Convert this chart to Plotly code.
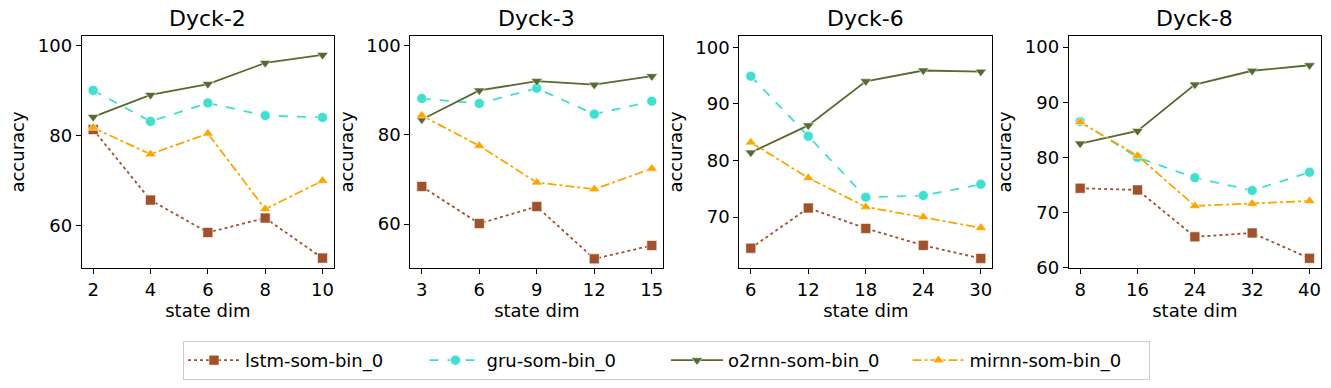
import plotly.graph_objects as go

titles = ["Dyck-2", "Dyck-3", "Dyck-6", "Dyck-8"]
state_dims = [
    [2, 4, 6, 8, 10],
    [3, 6, 9, 12, 15],
    [6, 12, 18, 24, 30],
    [8, 16, 24, 32, 40],
]
series_names = ["lstm-som-bin_0", "gru-som-bin_0", "o2rnn-som-bin_0", "mirnn-som-bin_0"]

lstm = [
    [81.3, 65.6, 58.4, 61.6, 52.7],
    [68.4, 60.1, 63.9, 52.2, 55.2],
    [64.5, 71.6, 68.0, 65.0, 62.7],
    [74.4, 74.1, 65.6, 66.3, 61.7],
]
gru = [
    [90.0, 83.1, 87.2, 84.4, 84.0],
    [88.1, 87.0, 90.4, 84.6, 87.5],
    [94.9, 84.3, 73.5, 73.8, 75.8],
    [86.5, 80.0, 76.3, 74.0, 77.3],
]
o2rnn = [
    [84.1, 89.0, 91.4, 96.1, 97.9],
    [83.4, 89.9, 92.0, 91.2, 93.1],
    [81.4, 86.2, 94.0, 95.9, 95.7],
    [82.5, 84.8, 93.2, 95.7, 96.7],
]
mirnn = [
    [81.7, 75.8, 80.4, 63.6, 69.9],
    [84.3, 77.5, 69.3, 67.8, 72.4],
    [83.2, 76.9, 71.8, 70.0, 68.1],
    [86.4, 80.3, 71.2, 71.6, 72.1],
]

y_ranges = [[50.5, 102.1], [50.15, 102.1], [61.0, 102.0], [59.95, 102.0]]
y_dticks = [20, 20, 10, 10]

styles = [
    dict(color="#a0522d", dash="dot", symbol="square", size=10),
    dict(color="#40e0d0", dash="dash", symbol="circle", size=10),
    dict(color="#556b2f", dash="solid", symbol="triangle-down", size=10),
    dict(color="#ffa500", dash="dashdot", symbol="triangle-up", size=10),
]
all_series = [lstm, gru, o2rnn, mirnn]

W, H = 1331, 388
x_px = [(81.7, 334.0), (410.3, 663.3), (739.3, 992.3), (1068.7, 1321.0)]
y_dom = [1 - 268 / H, 1 - 36 / H]

FONT = "DejaVu Sans"
FS = 18
fig = go.Figure()

for i in range(4):
    xa = "x" if i == 0 else f"x{i+1}"
    ya = "y" if i == 0 else f"y{i+1}"
    for s in range(4):
        st = styles[s]
        fig.add_trace(go.Scatter(
            x=state_dims[i], y=all_series[s][i],
            mode="lines+markers",
            name=series_names[s],
            legendgroup=series_names[s],
            showlegend=(i == 0),
            line=dict(color=st["color"], dash=st["dash"], width=1.8),
            marker=dict(symbol=st["symbol"], size=st["size"], color=st["color"],
                        line=dict(color="white", width=0.6)),
            xaxis=xa, yaxis=ya,
        ))
    xs = state_dims[i]
    span = xs[-1] - xs[0]
    xr = [xs[0] - 0.05 * span, xs[-1] + 0.05 * span]
    dom = [x_px[i][0] / W, x_px[i][1] / W]
    axis_common = dict(showline=True, linecolor="black", linewidth=1, mirror=True,
                       ticks="outside", ticklen=5, tickwidth=1, tickcolor="black",
                       showgrid=False, zeroline=False, automargin=False,
                       tickfont=dict(family=FONT, size=FS, color="black"))
    fig.layout[("xaxis" if i == 0 else f"xaxis{i+1}")] = dict(
        domain=dom, anchor=ya, range=xr, tickmode="array", tickvals=xs,
        ticktext=[str(v) for v in xs],
        title=dict(text="state dim", font=dict(family=FONT, size=FS, color="black"), standoff=3),
        **axis_common)
    fig.layout[("yaxis" if i == 0 else f"yaxis{i+1}")] = dict(
        domain=y_dom, anchor=xa, range=y_ranges[i], dtick=y_dticks[i], tick0=0,
        title=dict(text="accuracy", font=dict(family=FONT, size=FS, color="black"), standoff=8),
        **axis_common)
    fig.add_annotation(text=titles[i], x=(dom[0] + dom[1]) / 2, y=1 - 18 / H,
                       xref="paper", yref="paper", showarrow=False,
                       font=dict(family=FONT, size=22, color="black"),
                       xanchor="center", yanchor="middle")

fig.update_layout(
    width=W, height=H,
    margin=dict(l=0, r=0, t=0, b=0, autoexpand=False),
    paper_bgcolor="white", plot_bgcolor="white",
    font=dict(family=FONT, size=FS, color="black"),
    legend=dict(orientation="h", x=666.5 / W, xanchor="center", y=1 - 360.5 / H, yanchor="middle",
                bordercolor="#cccccc", borderwidth=1, bgcolor="white",
                font=dict(family=FONT, size=FS, color="black"),
                entrywidth=174.5, entrywidthmode="pixels", itemwidth=52),
)

fig.write_html("out.html", config={"displayModeBar": False},
               post_script="document.body.style.margin='0';document.body.style.padding='0';")
